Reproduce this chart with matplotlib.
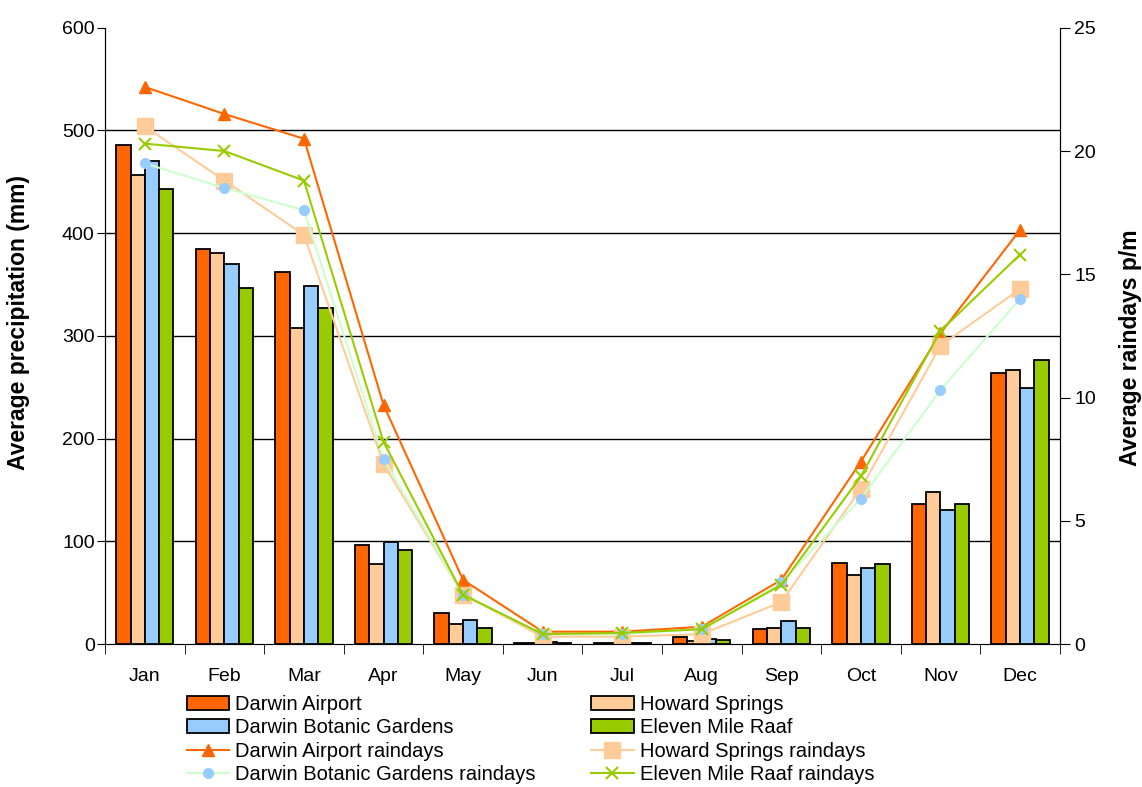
import numpy as np
import matplotlib.pyplot as plt

plt.rcParams['font.family'] = ['Liberation Sans', 'DejaVu Sans']

months = ["Jan", "Feb", "Mar", "Apr", "May", "Jun", "Jul", "Aug", "Sep", "Oct", "Nov", "Dec"]

# average precipitation (mm)
airport_mm = [486, 385, 362, 96, 30, 1, 1, 7, 15, 79, 136, 264]
howard_mm = [457, 381, 308, 78, 19, 1, 1, 3, 16, 67, 148, 267]
botanic_mm = [470, 370, 349, 99, 23, 2, 1, 5, 22, 74, 130, 249]
eleven_mm = [443, 347, 327, 92, 16, 1, 1, 4, 16, 78, 136, 277]

# average raindays per month
airport_rd = [22.6, 21.5, 20.5, 9.7, 2.6, 0.5, 0.5, 0.7, 2.6, 7.4, 12.6, 16.8]
howard_rd = [21.0, 18.8, 16.6, 7.3, 2.0, 0.3, 0.3, 0.4, 1.7, 6.3, 12.1, 14.4]
botanic_rd = [19.5, 18.5, 17.6, 7.5, 2.0, 0.4, 0.4, 0.6, 2.5, 5.9, 10.3, 14.0]
eleven_rd = [20.3, 20.0, 18.8, 8.2, 2.0, 0.4, 0.45, 0.6, 2.4, 6.8, 12.7, 15.8]

orange = "#FF6600"
peach = "#FFCC99"
blue = "#99CCFF"
green = "#99CC00"

fig = plt.figure(figsize=(11.42, 7.87), dpi=100)
ax = fig.add_axes([0.092, 0.1817, 0.836, 0.783])
ax2 = ax.twinx()

x = np.arange(len(months))
w = 0.18
bars = []
for i, (vals, col, name) in enumerate([
        (airport_mm, orange, "Darwin Airport"),
        (howard_mm, peach, "Howard Springs"),
        (botanic_mm, blue, "Darwin Botanic Gardens"),
        (eleven_mm, green, "Eleven Mile Raaf")]):
    b = ax.bar(x + (i - 1.5) * w, vals, width=w, color=col, edgecolor="black",
               linewidth=1.3, label=name, zorder=2)
    bars.append(b)

l1, = ax2.plot(x, airport_rd, color=orange, lw=1.5, marker="^", ms=9,
               label="Darwin Airport raindays")
l2, = ax2.plot(x, howard_rd, color=peach, lw=1.5, marker="s", ms=11,
               label="Howard Springs raindays")
l3, = ax2.plot(x, botanic_rd, color="#CCFFCC", lw=1.5, marker="o", ms=7,
               mfc=blue, mec=blue, label="Darwin Botanic Gardens raindays")
l4, = ax2.plot(x, eleven_rd, color=green, lw=1.5, marker="x", ms=9, mew=1.5,
               label="Eleven Mile Raaf raindays")

ax.set_xlim(-0.5, 11.5)
ax.set_ylim(0, 600)
ax.set_yticks(range(0, 601, 100))
ax2.set_ylim(0, 25)
ax2.set_yticks(range(0, 26, 5))

ax.set_xticks(x)
ax.set_xticklabels(months)
ax.set_xticks(np.arange(-0.5, 12, 1), minor=True)
ax.tick_params(axis="x", which="major", length=0, labelsize=14, pad=17)
ax.tick_params(axis="x", which="minor", length=7, direction="out")
ax.tick_params(axis="y", labelsize=14, length=6, pad=1.5)
ax2.tick_params(axis="y", labelsize=14, length=7, pad=3.5)

for y in range(100, 600, 100):
    ax.axhline(y, color="black", lw=1, zorder=1)

for a in (ax, ax2):
    a.spines["top"].set_visible(False)
ax.spines["bottom"].set_color("#808080")

ax.set_ylabel("Average precipitation (mm)", fontsize=16.5, fontweight="bold")
ax2.set_ylabel("Average raindays p/m", fontsize=16.5, fontweight="bold")
ax.yaxis.set_label_coords(-0.0785, 0.521)
ax2.yaxis.set_label_coords(1.062, 0.481)

handles = [bars[0], bars[2], l1, l3, bars[1], bars[3], l2, l4]
fig.legend(handles=handles, labels=[h.get_label() for h in handles], ncol=2,
           loc="upper left", bbox_to_anchor=(0.155, 0.13), frameon=False,
           fontsize=14.5, handlelength=2.1, handletextpad=0.3, labelspacing=0.22,
           columnspacing=2.75, borderpad=0)

fig.savefig("out.png", dpi=100)
